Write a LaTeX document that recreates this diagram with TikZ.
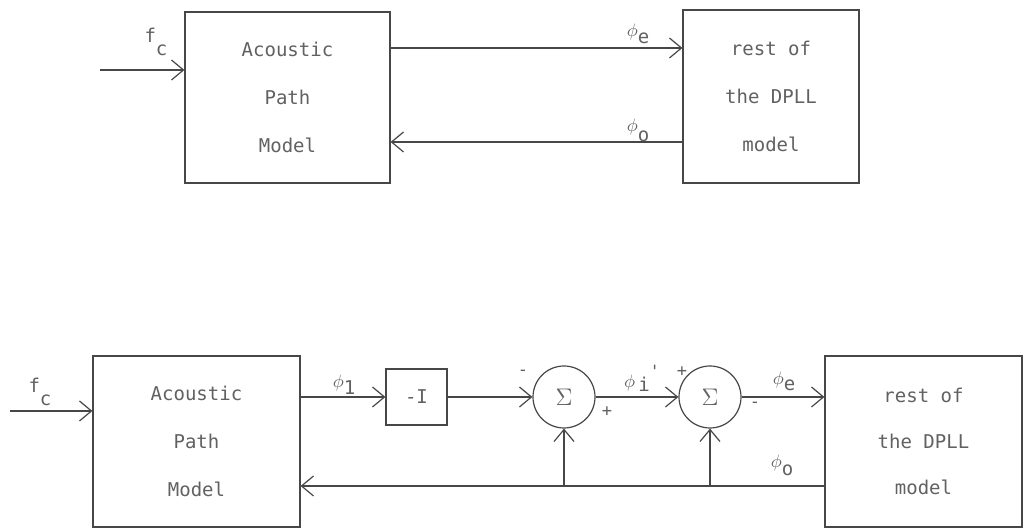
\documentclass[tikz,border=0pt]{standalone}
\usepackage{fontspec}
\setmonofont{DejaVu Sans Mono}
\usepackage{tikz}
\usetikzlibrary{arrows.meta, positioning, calc}
\colorlet{inkline}{black!72}
\colorlet{inktext}{black!62}
\newcommand{\blkfont}{\ttfamily\fontsize{9.5}{11.5}\selectfont}
\newcommand{\sgnfont}{\ttfamily\fontsize{8.5}{9}\selectfont}
\begin{document}
\begin{tikzpicture}[x=0.5pt, y=-0.5pt,%
  blk/.style={rectangle, draw=inkline, line width=0.6pt, align=center, font=\blkfont, text=inktext},%
  sumnode/.style={circle, draw=inkline, line width=0.6pt, minimum size=31pt, inner sep=0pt, font=\blkfont, text=inktext},%
  arr/.style={-{Straight Barb[length=6pt,width=10pt]}, line width=0.6pt, draw=inkline},%
  lbl/.style={font=\blkfont, text=inktext, inner sep=0pt},%
  sgn/.style={font=\sgnfont, text=inktext, inner sep=0pt}%
]
  \useasboundingbox (0,0) rectangle (1025,529);
  % upper diagram
  \node[blk, minimum width=102.5pt, minimum height=85.5pt] (apm1) at (287.5,97.5) {Acoustic\\[12.5pt]Path\\[12.5pt]Model};
  \node[blk, minimum width=88pt, minimum height=86.5pt] (dpll1) at (771,96.5) {rest of\\[12.5pt]the DPLL\\[12.5pt]model};
  \coordinate (fcin1) at (100,70);
  \coordinate (ye) at (0,48);
  \coordinate (yo) at (0,142);
  \draw[arr] (fcin1) -- (fcin1 -| apm1.west);
  \draw[arr] (apm1.east |- ye) -- (dpll1.west |- ye);
  \draw[arr] (dpll1.west |- yo) -- (apm1.east |- yo);
  \node[lbl] (fc1) at (156,42) {f\raisebox{-6.5pt}{c}};
  \node[lbl] (pe1) at (638,34) {\(\phi\)\raisebox{-3.5pt}{e}};
  \node[lbl] (po1) at (638,130) {\(\phi\)\raisebox{-5pt}{o}};
  % lower diagram
  \node[blk, minimum width=103.5pt, minimum height=85.5pt] (apm2) at (196.5,441.5) {Acoustic\\[12.5pt]Path\\[12.5pt]Model};
  \node[blk, minimum width=30.5pt, minimum height=28pt] (neg) at (416.5,397) {-I};
  \node[sumnode] (sum1) at (564,397) {\large\(\Sigma\)};
  \node[sumnode] (sum2) at (710,397) {\large\(\Sigma\)};
  \node[blk, minimum width=98.5pt, minimum height=85.5pt] (dpll2) at (923.5,441.5) {rest of\\[11.5pt]the DPLL\\[11.5pt]model};
  \coordinate (fcin2) at (10,411);
  \coordinate (fby) at (0,486);
  \draw[arr] (fcin2) -- (fcin2 -| apm2.west);
  \draw[arr] (apm2.east |- neg.west) -- (neg.west);
  \draw[arr] (neg) -- (sum1);
  \draw[arr] (sum1) -- (sum2);
  \draw[arr] (sum2) -- (dpll2.west |- sum2);
  \draw[arr] (dpll2.west |- fby) -- (apm2.east |- fby);
  \draw[arr] (sum1 |- fby) -- (sum1.south);
  \draw[arr] (sum2 |- fby) -- (sum2.south);
  \node[lbl] (fc2) at (40,392) {f\raisebox{-6.5pt}{c}};
  \node[lbl] (pi1) at (344,385) {\(\phi\)\raisebox{-3.5pt}{1}};
  \node[lbl] (pi2) at (642,378) {\(\phi\)\,\raisebox{-2pt}{i}\raisebox{5pt}{\sgnfont'}};
  \node[lbl] (pe2) at (784,381) {\(\phi\)\raisebox{-3pt}{e}};
  \node[lbl] (po2) at (782,465) {\(\phi\)\raisebox{-4pt}{o}};
  \node[sgn] (s1m) at (523,373) {-};
  \node[sgn] (s1p) at (607,412) {+};
  \node[sgn] (s2p) at (682,372) {+};
  \node[sgn] (s2m) at (755,405) {-};
\end{tikzpicture}
\end{document}
